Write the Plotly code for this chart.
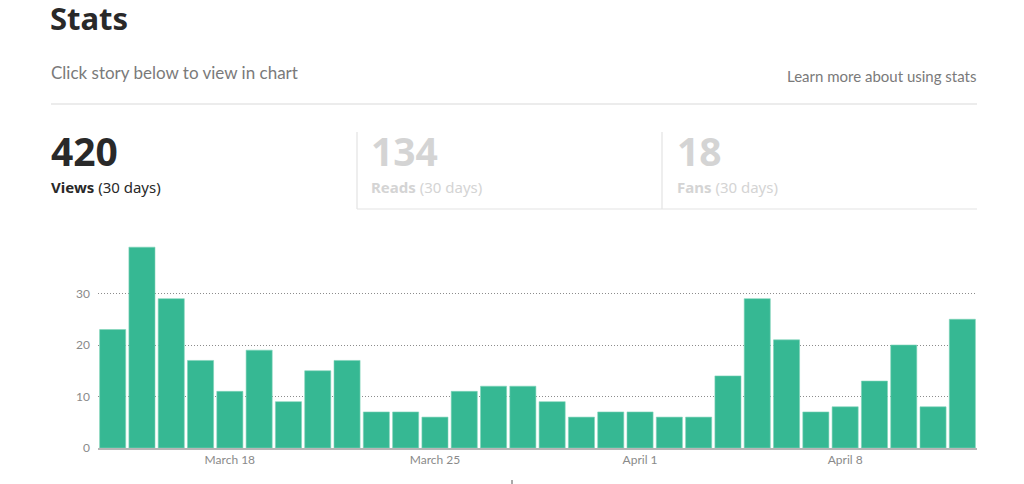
import plotly.graph_objects as go
import pandas as pd

# ---- data ----
dates = pd.date_range("2018-03-14", "2018-04-12", freq="D")
views = [23, 39, 29, 17, 11, 19, 9, 15, 17, 7, 7, 6, 11, 12, 12, 9, 6, 7, 7, 6,
         6, 14, 29, 21, 7, 8, 13, 20, 8, 25]
tick_dates = ["2018-03-18", "2018-03-25", "2018-04-01", "2018-04-08"]
tick_labels = ["March 18", "March 25", "April 1", "April 8"]
y_ticks = [0, 10, 20, 30]
stat_values = ["420", "134", "18"]
stat_names = ["Views", "Reads", "Fans"]
stat_period = "(30 days)"

W, H = 1024, 484
L, R = 98, 977
B0, T0 = 448, 242

def px(x):
    return (x - L) / (R - L)

def py(y):
    return (B0 - y) / (B0 - T0)

fig = go.Figure(go.Bar(
    x=dates, y=views, marker_color="#36b893",
    marker_line_color="#7fd3b9", marker_line_width=0.6,
    hoverinfo="x+y"))

FONT = "Noto Sans"
ann = []
def text(x, y, t, size, color, xanchor="left", family=FONT, pad=1, height=None):
    a = dict(x=px(x), y=py(y), xref="paper", yref="paper", text=t,
             showarrow=False, xanchor=xanchor, yanchor="middle",
             borderpad=pad,
             font=dict(size=size, color=color, family=family))
    if height:
        a["height"] = height
        a["valign"] = "middle"
    ann.append(a)

text(49, 18, "<b>Stats</b>", 31, "#292929", pad=0, height=34)
text(49, 73, "Click story below to view in chart", 17, "#7a7a7a", family="Lato")
text(978, 76, "Learn more about using stats", 15, "#7a7a7a", xanchor="right", family="Lato")

cols = [(49, "#292929", "#292929"), (369, "#d4d4d4", "#d4d4d4"), (675, "#d4d4d4", "#d4d4d4")]
for (x0, c1, c2), v, n in zip(cols, stat_values, stat_names):
    text(x0, 150, "<b>" + v + "</b>", 39, c1)
    text(x0, 187, "<b>" + n + "</b> " + stat_period, 15, c2)

shapes = []
def line(x0, y0, x1, y1, color="#e3e3e3", w=1.2):
    shapes.append(dict(type="line", xref="paper", yref="paper",
                       x0=px(x0), y0=py(y0), x1=px(x1), y1=py(y1),
                       line=dict(color=color, width=w)))

line(51, 104, 977, 104, "#e6e6e6", 1.5)
line(357, 132, 357, 209)
line(662, 132, 662, 209)
line(357, 209, 977, 209)
line(512, 480, 512, 484, "#555555", 1)

fig.update_layout(
    width=W, height=H,
    margin=dict(l=L, r=W - R, t=T0, b=H - B0),
    paper_bgcolor="white", plot_bgcolor="white",
    bargap=0.11, showlegend=False,
    annotations=ann, shapes=shapes,
    xaxis=dict(
        type="date",
        range=["2018-03-13 12:00", "2018-04-12 12:00"],
        tickvals=tick_dates, ticktext=tick_labels,
        showgrid=False, showline=True, linecolor="#b5b5b5", linewidth=1.5,
        ticks="", tickfont=dict(size=12, color="#8a8a8a", family="Lato"),
        fixedrange=True),
    yaxis=dict(
        range=[0, 40], tickvals=y_ticks,
        showgrid=True, gridcolor="#8c8c8c", griddash="1px,2px", gridwidth=1,
        zeroline=False, showline=False, ticks="",
        ticklabelstandoff=7,
        tickfont=dict(size=12, color="#8a8a8a", family="Lato"),
        fixedrange=True),
)

fig.write_html("out.html", config={"displayModeBar": False},
               post_script="document.body.style.margin='0';")
